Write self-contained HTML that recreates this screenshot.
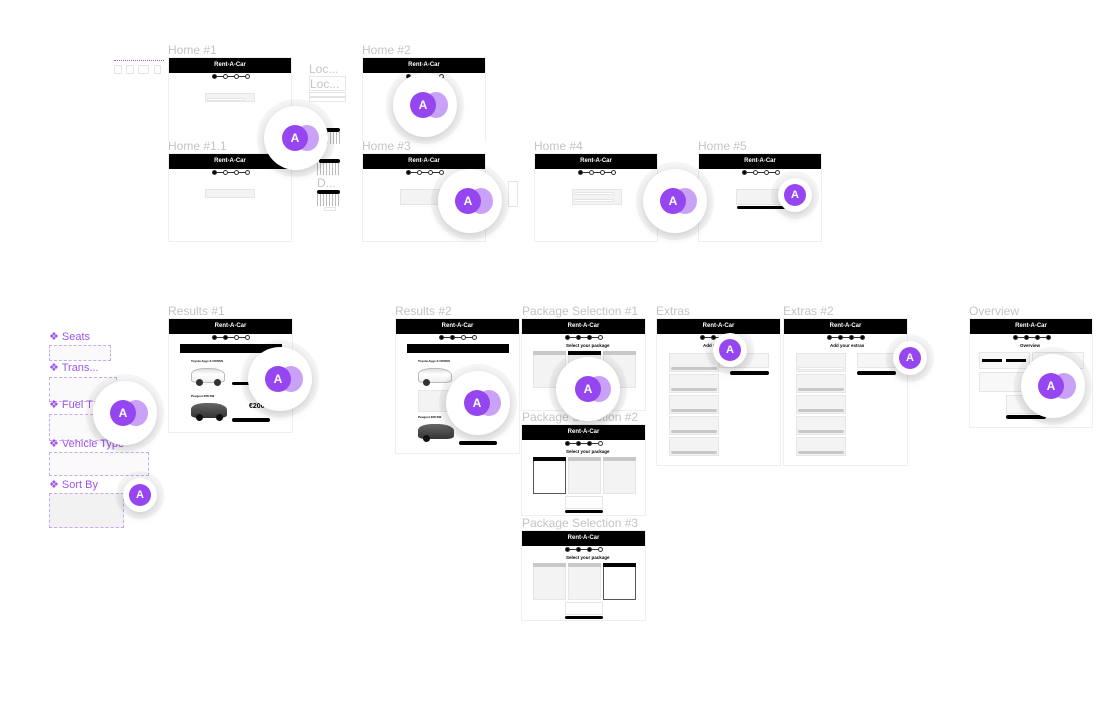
<!DOCTYPE html>
<html><head><meta charset="utf-8">
<style>
*{margin:0;padding:0;box-sizing:border-box}
body{width:1106px;height:704px;background:#fff;position:relative;overflow:hidden;font-family:"Liberation Sans",sans-serif}
.a{position:absolute}
.lbl{position:absolute;font-size:12px;color:#c4c4c4;white-space:nowrap;line-height:12px}
.fr{position:absolute;background:#fff;border:1px solid #efefef}
.hd{position:absolute;left:0;right:0;top:0;height:15px;background:#000;color:#fff;font-size:6px;font-weight:bold;text-align:center;line-height:15px}
.st{position:absolute;height:1px;background:#333;width:36px}
.st i{position:absolute;top:-2px;width:5px;height:5px;border-radius:50%;border:1px solid #333;background:#fff}
.st i.f{background:#000}
.box{position:absolute;background:#f3f3f3;border:1px solid #e6e6e6}
.bk{position:absolute;background:#000;border-radius:2px}
.gr{position:absolute;background:#c8c8c8;border-radius:2px}
.av{position:absolute;border-radius:50%;background:#fff;box-shadow:0 0 0 7px rgba(0,0,0,0.035),0 3px 10px rgba(0,0,0,0.18)}
.p1{position:absolute;border-radius:50%;background:#9646f0;color:#fff;font-weight:bold;text-align:center}
.p2{position:absolute;border-radius:50%;background:#c9a2f7}
.pl{position:absolute;font-size:11px;color:#9b55ee;white-space:nowrap}
.car{position:absolute;border-radius:40% 45% 20% 20%}
.ttl{position:absolute;font-size:4.5px;font-weight:bold;color:#000;white-space:nowrap}
.dash{position:absolute;border:1px dashed #c9a8f2;background:#fafafa}
</style></head><body>

<div class="a" style="left:114px;top:60px;width:50px;height:2px;border-top:1px dotted #9b55ee"></div>
<div class="box" style="left:114px;top:65px;width:8px;height:9px;background:#fff"></div>
<div class="box" style="left:126px;top:65px;width:8px;height:9px;background:#fff"></div>
<div class="box" style="left:138px;top:65px;width:11px;height:9px;background:#fff"></div>
<div class="box" style="left:154px;top:65px;width:7px;height:9px;background:#fff"></div>

<div class="lbl" style="left:168px;top:44px">Home #1</div>
<div class="lbl" style="left:362px;top:44px">Home #2</div>
<div class="lbl" style="left:168px;top:140px">Home #1.1</div>
<div class="lbl" style="left:362px;top:140px">Home #3</div>
<div class="lbl" style="left:534px;top:140px">Home #4</div>
<div class="lbl" style="left:698px;top:140px">Home #5</div>
<div class="lbl" style="left:309px;top:63px">Loc...</div>
<div class="lbl" style="left:168px;top:305px">Results #1</div>
<div class="lbl" style="left:395px;top:305px">Results #2</div>
<div class="lbl" style="left:522px;top:305px">Package Selection #1</div>
<div class="lbl" style="left:522px;top:411px">Package Selection #2</div>
<div class="lbl" style="left:522px;top:517px">Package Selection #3</div>
<div class="lbl" style="left:656px;top:305px">Extras</div>
<div class="lbl" style="left:783px;top:305px">Extras #2</div>
<div class="lbl" style="left:969px;top:305px">Overview</div>

<div class="box" style="left:309px;top:76px;width:37px;height:15px;background:#fff"></div>
<div class="lbl" style="left:310px;top:78px">Loc...</div>
<div class="box" style="left:309px;top:92px;width:37px;height:10px;background:#fff"></div>
<div class="a" style="left:309px;top:96px;width:37px;height:2px;background:#e4e4e4"></div>
<div class="bk" style="left:321px;top:128px;width:19px;height:4px"></div>
<div class="a" style="left:321px;top:132px;width:19px;height:12px;background:repeating-linear-gradient(90deg,#bbb 0 1px,#fff 1px 3px)"></div>
<div class="bk" style="left:319px;top:159px;width:21px;height:4px"></div>
<div class="a" style="left:317px;top:163px;width:23px;height:12px;background:repeating-linear-gradient(90deg,#bbb 0 1px,#fff 1px 3px)"></div>
<div class="lbl" style="left:317px;top:177px">D...</div>
<div class="bk" style="left:317px;top:190px;width:23px;height:4px"></div>
<div class="a" style="left:317px;top:194px;width:23px;height:12px;background:repeating-linear-gradient(90deg,#bbb 0 1px,#fff 1px 3px)"></div>
<div class="box" style="left:324px;top:207px;width:12px;height:4px;background:#fff"></div>

<div class="fr" style="left:168px;top:57px;width:124px;height:84px;border-bottom:none">
<div class="hd">Rent-A-Car</div>
<div class="st" style="left:44px;top:18px"><i class="f" style="left:-1px"></i><i style="left:10px"></i><i style="left:21px"></i><i style="left:32px"></i></div>
<div class="box" style="left:36px;top:35px;width:50px;height:9px"></div>
<div class="box" style="left:38px;top:40px;width:38px;height:3px;background:#fff"></div>
</div>
<div class="fr" style="left:168px;top:153px;width:124px;height:89px">
<div class="hd">Rent-A-Car</div>
<div class="st" style="left:44px;top:18px"><i class="f" style="left:-1px"></i><i style="left:10px"></i><i style="left:21px"></i><i style="left:32px"></i></div>
<div class="box" style="left:36px;top:35px;width:50px;height:9px"></div>
</div>
<div class="fr" style="left:362px;top:57px;width:124px;height:84px;border-bottom:none">
<div class="hd">Rent-A-Car</div>
<div class="st" style="left:44px;top:18px"><i class="f" style="left:-1px"></i><i style="left:10px"></i><i style="left:21px"></i><i style="left:32px"></i></div>
</div>
<div class="fr" style="left:362px;top:153px;width:124px;height:89px">
<div class="hd">Rent-A-Car</div>
<div class="st" style="left:44px;top:18px"><i class="f" style="left:-1px"></i><i style="left:10px"></i><i style="left:21px"></i><i style="left:32px"></i></div>
<div class="box" style="left:37px;top:35px;width:50px;height:16px"></div>
</div>
<div class="box" style="left:508px;top:181px;width:10px;height:26px;background:#fff"></div>
<div class="fr" style="left:534px;top:153px;width:124px;height:89px">
<div class="hd">Rent-A-Car</div>
<div class="st" style="left:44px;top:18px"><i class="f" style="left:-1px"></i><i style="left:10px"></i><i style="left:21px"></i><i style="left:32px"></i></div>
<div class="box" style="left:37px;top:35px;width:50px;height:16px"></div>
<div class="box" style="left:39px;top:38px;width:40px;height:3px;background:#fff"></div>
<div class="box" style="left:39px;top:45px;width:40px;height:3px;background:#fff"></div>
</div>
<div class="fr" style="left:698px;top:153px;width:124px;height:89px">
<div class="hd">Rent-A-Car</div>
<div class="st" style="left:44px;top:18px"><i class="f" style="left:-1px"></i><i style="left:10px"></i><i style="left:21px"></i><i style="left:32px"></i></div>
<div class="box" style="left:37px;top:35px;width:50px;height:16px"></div>
<div class="bk" style="left:38px;top:52px;width:48px;height:3px"></div>
</div>

<div class="pl" style="left:49px;top:330px">❖ Seats</div>
<div class="dash" style="left:49px;top:345px;width:62px;height:16px"></div>
<div class="pl" style="left:49px;top:361px">❖ Trans...</div>
<div class="dash" style="left:49px;top:377px;width:68px;height:25px"></div>
<div class="pl" style="left:49px;top:398px">❖ Fuel T</div>
<div class="dash" style="left:49px;top:414px;width:75px;height:27px"></div>
<div class="pl" style="left:49px;top:437px">❖ Vehicle Type</div>
<div class="dash" style="left:49px;top:452px;width:100px;height:24px"></div>
<div class="pl" style="left:49px;top:478px">❖ Sort By</div>
<div class="dash" style="left:49px;top:493px;width:75px;height:35px;background:#f2f2f2"></div>

<div class="fr" style="left:168px;top:318px;width:125px;height:115px">
<div class="hd">Rent-A-Car</div>
<div class="st" style="left:44px;top:18px"><i class="f" style="left:-1px"></i><i class="f" style="left:10px"></i><i style="left:21px"></i><i style="left:32px"></i></div>
<div class="bk" style="left:11px;top:25px;width:102px;height:9px;border-radius:0"></div>
<div class="ttl" style="left:22px;top:40px;font-size:3px">Toyota Aygo X CROSS</div>
<div class="car" style="left:22px;top:49px;width:34px;height:15px;background:linear-gradient(#ddd,#fff 40%,#eee);border:1px solid #bbb"></div>
<div class="a" style="left:27px;top:60px;width:7px;height:7px;border-radius:50%;background:#333"></div>
<div class="a" style="left:45px;top:60px;width:7px;height:7px;border-radius:50%;background:#333"></div>
<div class="bk" style="left:63px;top:63px;width:30px;height:3px"></div>
<div class="ttl" style="left:22px;top:75px;font-size:3px">Peugeot 308 SW</div>
<div class="car" style="left:22px;top:84px;width:36px;height:15px;background:linear-gradient(#666,#333);"></div>
<div class="a" style="left:27px;top:95px;width:7px;height:7px;border-radius:50%;background:#111"></div>
<div class="a" style="left:47px;top:95px;width:7px;height:7px;border-radius:50%;background:#111"></div>
<div class="ttl" style="left:80px;top:84px;font-size:7px">€200</div>
<div class="bk" style="left:63px;top:99px;width:38px;height:4px"></div>
</div>

<div class="fr" style="left:395px;top:318px;width:125px;height:136px">
<div class="hd">Rent-A-Car</div>
<div class="st" style="left:44px;top:18px"><i class="f" style="left:-1px"></i><i class="f" style="left:10px"></i><i style="left:21px"></i><i style="left:32px"></i></div>
<div class="bk" style="left:11px;top:25px;width:102px;height:9px;border-radius:0"></div>
<div class="ttl" style="left:22px;top:40px;font-size:3px">Toyota Aygo X CROSS</div>
<div class="car" style="left:22px;top:49px;width:34px;height:15px;background:linear-gradient(#ddd,#fff 40%,#eee);border:1px solid #bbb"></div>
<div class="a" style="left:27px;top:60px;width:7px;height:7px;border-radius:50%;background:#333"></div>
<div class="box" style="left:22px;top:71px;width:45px;height:22px"></div>
<div class="ttl" style="left:22px;top:96px;font-size:3px">Peugeot 308 SW</div>
<div class="car" style="left:22px;top:105px;width:36px;height:15px;background:linear-gradient(#666,#333)"></div>
<div class="a" style="left:27px;top:116px;width:7px;height:7px;border-radius:50%;background:#111"></div>
<div class="bk" style="left:63px;top:122px;width:38px;height:4px"></div>
</div>

<div class="fr" style="left:521px;top:318px;width:125px;height:93px">
<div class="hd">Rent-A-Car</div>
<div class="st" style="left:44px;top:18px"><i class="f" style="left:-1px"></i><i class="f" style="left:10px"></i><i class="f" style="left:21px"></i><i style="left:32px"></i></div>
<div class="ttl" style="left:44px;top:24px">Select your package</div>
<div class="box" style="left:11px;top:32px;width:33px;height:37px"></div><div class="gr" style="left:11px;top:32px;width:33px;height:4px;border-radius:0"></div>
<div class="box" style="left:46px;top:32px;width:33px;height:37px"></div><div class="bk" style="left:46px;top:32px;width:33px;height:4px;border-radius:0"></div>
<div class="box" style="left:81px;top:32px;width:33px;height:37px"></div><div class="gr" style="left:81px;top:32px;width:33px;height:4px;border-radius:0"></div>
</div>
<div class="fr" style="left:521px;top:424px;width:125px;height:92px">
<div class="hd">Rent-A-Car</div>
<div class="st" style="left:44px;top:18px"><i class="f" style="left:-1px"></i><i class="f" style="left:10px"></i><i class="f" style="left:21px"></i><i style="left:32px"></i></div>
<div class="ttl" style="left:44px;top:24px">Select your package</div>
<div class="box" style="left:11px;top:32px;width:33px;height:37px;background:#fff;border-color:#555"></div><div class="bk" style="left:11px;top:32px;width:33px;height:4px;border-radius:0"></div>
<div class="box" style="left:46px;top:32px;width:33px;height:37px"></div><div class="gr" style="left:46px;top:32px;width:33px;height:4px;border-radius:0"></div>
<div class="box" style="left:81px;top:32px;width:33px;height:37px"></div><div class="gr" style="left:81px;top:32px;width:33px;height:4px;border-radius:0"></div>
<div class="box" style="left:43px;top:71px;width:38px;height:13px;background:#fff"></div>
<div class="bk" style="left:43px;top:85px;width:38px;height:3px"></div>
</div>
<div class="fr" style="left:521px;top:530px;width:125px;height:91px">
<div class="hd">Rent-A-Car</div>
<div class="st" style="left:44px;top:18px"><i class="f" style="left:-1px"></i><i class="f" style="left:10px"></i><i class="f" style="left:21px"></i><i style="left:32px"></i></div>
<div class="ttl" style="left:44px;top:24px">Select your package</div>
<div class="box" style="left:11px;top:32px;width:33px;height:37px"></div><div class="gr" style="left:11px;top:32px;width:33px;height:4px;border-radius:0"></div>
<div class="box" style="left:46px;top:32px;width:33px;height:37px"></div><div class="gr" style="left:46px;top:32px;width:33px;height:4px;border-radius:0"></div>
<div class="box" style="left:81px;top:32px;width:33px;height:37px;background:#fff;border-color:#555"></div><div class="bk" style="left:81px;top:32px;width:33px;height:4px;border-radius:0"></div>
<div class="box" style="left:43px;top:71px;width:38px;height:13px;background:#fff"></div>
<div class="bk" style="left:43px;top:85px;width:38px;height:3px"></div>
</div>

<div class="fr" style="left:656px;top:318px;width:125px;height:148px">
<div class="hd">Rent-A-Car</div>
<div class="st" style="left:44px;top:18px"><i class="f" style="left:-1px"></i><i class="f" style="left:10px"></i><i class="f" style="left:21px"></i><i style="left:32px"></i></div>
<div class="ttl" style="left:46px;top:24px">Add your extras</div>
<div class="box" style="left:12px;top:34px;width:50px;height:19px"></div><div class="gr" style="left:14px;top:48px;width:46px;height:3px"></div>
<div class="box" style="left:12px;top:55px;width:50px;height:19px"></div><div class="gr" style="left:14px;top:69px;width:46px;height:3px"></div>
<div class="box" style="left:12px;top:76px;width:50px;height:19px"></div><div class="gr" style="left:14px;top:90px;width:46px;height:3px"></div>
<div class="box" style="left:12px;top:97px;width:50px;height:19px"></div><div class="gr" style="left:14px;top:111px;width:46px;height:3px"></div>
<div class="box" style="left:12px;top:118px;width:50px;height:19px"></div><div class="gr" style="left:14px;top:132px;width:46px;height:3px"></div>
<div class="box" style="left:62px;top:34px;width:50px;height:15px;background:#f6f6f6"></div>
<div class="bk" style="left:73px;top:52px;width:39px;height:4px"></div>
</div>
<div class="fr" style="left:783px;top:318px;width:125px;height:148px">
<div class="hd">Rent-A-Car</div>
<div class="st" style="left:44px;top:18px"><i class="f" style="left:-1px"></i><i class="f" style="left:10px"></i><i class="f" style="left:21px"></i><i class="f" style="left:32px"></i></div>
<div class="ttl" style="left:46px;top:24px">Add your extras</div>
<div class="box" style="left:12px;top:34px;width:50px;height:19px"></div><div class="box" style="left:14px;top:48px;width:46px;height:3px;background:#fff"></div>
<div class="box" style="left:12px;top:55px;width:50px;height:19px"></div><div class="gr" style="left:14px;top:69px;width:46px;height:3px"></div>
<div class="box" style="left:12px;top:76px;width:50px;height:19px"></div><div class="gr" style="left:14px;top:90px;width:46px;height:3px"></div>
<div class="box" style="left:12px;top:97px;width:50px;height:19px"></div><div class="gr" style="left:14px;top:111px;width:46px;height:3px"></div>
<div class="box" style="left:12px;top:118px;width:50px;height:19px"></div><div class="gr" style="left:14px;top:132px;width:46px;height:3px"></div>
<div class="box" style="left:73px;top:34px;width:39px;height:15px;background:#f6f6f6"></div>
<div class="bk" style="left:73px;top:52px;width:39px;height:4px"></div>
</div>

<div class="fr" style="left:969px;top:318px;width:124px;height:110px">
<div class="hd">Rent-A-Car</div>
<div class="st" style="left:44px;top:18px"><i class="f" style="left:-1px"></i><i class="f" style="left:10px"></i><i class="f" style="left:21px"></i><i class="f" style="left:32px"></i></div>
<div class="ttl" style="left:50px;top:24px">Overview</div>
<div class="box" style="left:9px;top:33px;width:51px;height:17px;background:#f8f8f8"></div>
<div class="bk" style="left:12px;top:40px;width:20px;height:3px;border-radius:0"></div>
<div class="bk" style="left:36px;top:40px;width:20px;height:3px;border-radius:0"></div>
<div class="box" style="left:62px;top:33px;width:52px;height:17px;background:#f8f8f8"></div>
<div class="box" style="left:9px;top:53px;width:51px;height:20px;background:#f8f8f8"></div>
<div class="box" style="left:36px;top:76px;width:40px;height:19px;background:#f8f8f8"></div>
<div class="bk" style="left:36px;top:96px;width:40px;height:4px"></div>
</div>

<div class="av" style="left:264px;top:106px;width:64px;height:64px"></div>
<div class="p2" style="left:295px;top:125px;width:24px;height:26px"></div>
<div class="p1" style="left:282px;top:125px;width:26px;height:26px;font-size:12px;line-height:26px">A</div>

<div class="av" style="left:393px;top:73px;width:64px;height:64px"></div>
<div class="p2" style="left:424px;top:92px;width:24px;height:26px"></div>
<div class="p1" style="left:410px;top:92px;width:26px;height:26px;font-size:12px;line-height:26px">A</div>

<div class="av" style="left:438px;top:169px;width:64px;height:64px"></div>
<div class="p2" style="left:469px;top:188px;width:24px;height:26px"></div>
<div class="p1" style="left:455px;top:188px;width:26px;height:26px;font-size:12px;line-height:26px">A</div>

<div class="av" style="left:643px;top:169px;width:64px;height:64px"></div>
<div class="p2" style="left:673px;top:188px;width:24px;height:26px"></div>
<div class="p1" style="left:660px;top:188px;width:26px;height:26px;font-size:12px;line-height:26px">A</div>

<div class="av" style="left:248px;top:347px;width:64px;height:64px"></div>
<div class="p2" style="left:279px;top:366px;width:24px;height:26px"></div>
<div class="p1" style="left:265px;top:366px;width:26px;height:26px;font-size:12px;line-height:26px">A</div>

<div class="av" style="left:93px;top:381px;width:64px;height:64px"></div>
<div class="p2" style="left:124px;top:400px;width:24px;height:26px"></div>
<div class="p1" style="left:110px;top:400px;width:26px;height:26px;font-size:12px;line-height:26px">A</div>

<div class="av" style="left:446px;top:371px;width:64px;height:64px"></div>
<div class="p2" style="left:477px;top:390px;width:24px;height:26px"></div>
<div class="p1" style="left:464px;top:390px;width:26px;height:26px;font-size:12px;line-height:26px">A</div>

<div class="av" style="left:556px;top:357px;width:64px;height:64px"></div>
<div class="p2" style="left:587px;top:376px;width:24px;height:26px"></div>
<div class="p1" style="left:575px;top:376px;width:26px;height:26px;font-size:12px;line-height:26px">A</div>

<div class="av" style="left:1021px;top:354px;width:64px;height:64px"></div>
<div class="p2" style="left:1052px;top:373px;width:24px;height:26px"></div>
<div class="p1" style="left:1038px;top:373px;width:26px;height:26px;font-size:12px;line-height:26px">A</div>

<div class="av" style="left:778px;top:178px;width:34px;height:34px"></div>
<div class="p1" style="left:784px;top:184px;width:22px;height:22px;font-size:11px;line-height:22px">A</div>
<div class="av" style="left:713px;top:333px;width:34px;height:34px"></div>
<div class="p1" style="left:719px;top:339px;width:22px;height:22px;font-size:11px;line-height:22px">A</div>
<div class="av" style="left:893px;top:341px;width:34px;height:34px"></div>
<div class="p1" style="left:899px;top:347px;width:22px;height:22px;font-size:11px;line-height:22px">A</div>
<div class="av" style="left:123px;top:478px;width:34px;height:34px"></div>
<div class="p1" style="left:129px;top:484px;width:22px;height:22px;font-size:11px;line-height:22px">A</div>

</body></html>
